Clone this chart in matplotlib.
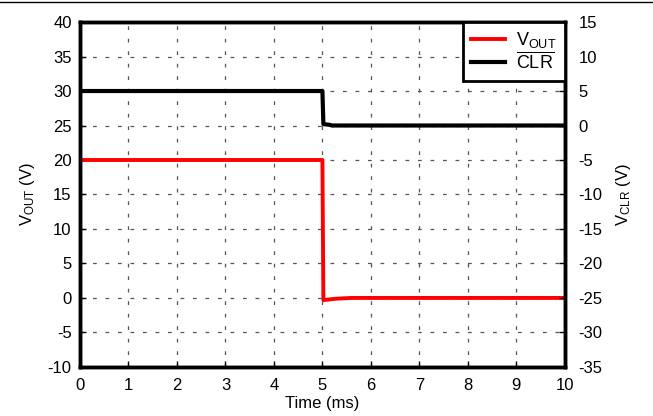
import numpy as np
from matplotlib import pyplot as plt

plt.rcParams['font.family'] = ['Liberation Sans', 'DejaVu Sans']
plt.rcParams['mathtext.fontset'] = 'custom'
plt.rcParams['mathtext.rm'] = 'Liberation Sans'
plt.rcParams['axes.unicode_minus'] = False

t_out = [0, 5, 5.02, 5.1, 5.3, 5.6, 10]
v_out = [20, 20, -0.3, -0.25, -0.1, 0, 0]
t_clr = [0, 5, 5.02, 5.15, 5.2, 10]
v_clr = [5, 5, 0.2, 0.1, 0, 0]

fig = plt.figure(figsize=(6.53, 4.16), dpi=100)
fig.add_artist(plt.Line2D([0, 1], [0.995, 0.995], color='black', lw=1))
ax = fig.add_axes([0.1225, 0.118, 0.7425, 0.829])
ax2 = ax.twinx()

l1, = ax.plot(t_out, v_out, color='red', lw=2.8)
l2, = ax2.plot(t_clr, v_clr, color='black', lw=3)

ax.set_xlim(0, 10)
ax.set_ylim(-10, 40)
ax2.set_ylim(-35, 15)
ax.set_xticks(np.arange(0, 11, 1))
ax.set_yticks(np.arange(-10, 41, 5))
ax2.set_yticks(np.arange(-35, 16, 5))

ax.grid(True, color='#555555', linestyle=(0, (3, 7)), lw=0.9)
for a in (ax, ax2):
    a.tick_params(direction='in', length=4, labelsize=12, width=1, pad=6)
    for s in a.spines.values():
        s.set_linewidth(2.5)
ax2.tick_params(pad=10)
ax.tick_params(axis='x', pad=8)

ax.set_xlabel('Time (ms)', fontsize=12, labelpad=2)
ax.set_ylabel(r'$\mathregular{V_{OUT}}$ (V)', fontsize=12, labelpad=8)
ax2.set_ylabel(r'$\mathregular{V_{CLR}}$ (V)', fontsize=12, labelpad=8)

leg = ax2.legend([l1, l2], [r'$\mathregular{V_{OUT}}$', r'$\mathregular{\overline{CLR}}$'],
                 loc='upper right', fontsize=13, fancybox=False, framealpha=1,
                 borderaxespad=0, handlelength=1.9, handletextpad=0.6,
                 labelspacing=0.1, borderpad=0.45)
leg.get_frame().set_edgecolor('black')
leg.get_frame().set_linewidth(2)

plt.savefig('out.png', dpi=100)
